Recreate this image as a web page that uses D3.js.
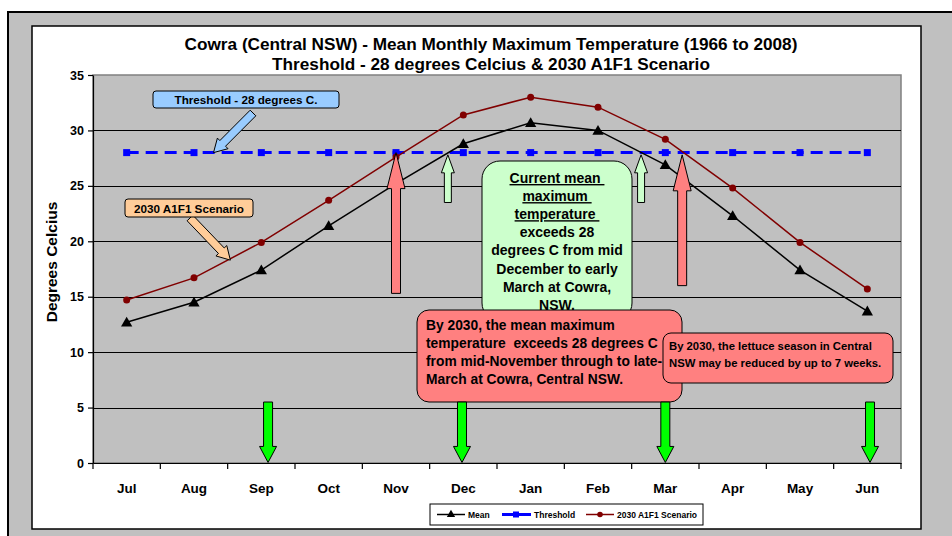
<!DOCTYPE html>
<html><head><meta charset="utf-8">
<script src="https://cdn.jsdelivr.net/npm/d3@7"></script>
<style>
body{margin:0;background:#fff;}
text{font-family:"Liberation Sans",Arial,sans-serif;font-weight:bold;fill:#000;}
</style>
</head><body>
<svg id="c" width="952" height="536"></svg>
<script>
// ---------- DATA ----------
const months = ["Jul","Aug","Sep","Oct","Nov","Dec","Jan","Feb","Mar","Apr","May","Jun"];
const meanValues = [12.7,14.5,17.4,21.4,25.2,28.8,30.7,30.0,26.9,22.3,17.4,13.7];
const thresholdValues = [28,28,28,28,28,28,28,28,28,28,28,28];
const scenarioValues = [14.7,16.7,19.9,23.7,27.6,31.4,33.0,32.1,29.2,24.8,19.9,15.7];
const yTicks = [0,5,10,15,20,25,30,35];
const seriesNames = ["Mean","Threshold","2030 A1F1 Scenario"];
const titleLines = ["Cowra (Central NSW) - Mean Monthly Maximum Temperature (1966 to 2008)",
                    "Threshold - 28 degrees Celcius & 2030 A1F1 Scenario"];
// annotation arrows in data coordinates: month index position, from value, to value
const redArrows = [{i:4.0, from:15.3, to:28.0},{i:8.25, from:16.0, to:27.8}];
const lightGreenArrows = [{i:4.77, from:23.5, to:27.8},{i:7.64, from:23.5, to:27.8}];
const downArrows = [{i:2.1, from:5.5, to:0.05},{i:4.98, from:5.5, to:0.05},{i:8.0, from:5.5, to:0.05},{i:11.04, from:5.5, to:0.05}];

// ---------- SETUP ----------
const svg = d3.select("#c");
const L = 93, R = 901, T = 75, B = 463;
const x = d3.scaleBand().domain(months).range([L, R]);
const bw = x.bandwidth();
const xc = m => x(m) + bw/2;
const xi = i => L + (i + 0.5) * bw;
const y = d3.scaleLinear().domain([0,35]).range([B, T]);
const FF = "'Liberation Sans',Arial,sans-serif";

// outer frame
svg.append("rect").attr("x",8).attr("y",12).attr("width",960).attr("height",540)
  .attr("fill","#c0c0c0").attr("stroke","#000").attr("stroke-width",2);
svg.append("rect").attr("x",32).attr("y",26).attr("width",889).attr("height",503)
  .attr("fill","#fff").attr("stroke","#000").attr("stroke-width",1.5);

// plot area
svg.append("rect").attr("x",L).attr("y",T).attr("width",R-L).attr("height",B-T)
  .attr("fill","#c0c0c0").attr("stroke","#808080").attr("stroke-width",1.5);

// gridlines
svg.append("g").selectAll("line").data(yTicks.filter(v=>v>0&&v<35)).join("line")
  .attr("x1",L).attr("x2",R).attr("y1",d=>Math.round(y(d))+0.5).attr("y2",d=>Math.round(y(d))+0.5)
  .attr("stroke","#000").attr("stroke-width",1);

// y axis
const yAxis = svg.append("g").attr("transform",`translate(${L},0)`)
  .call(d3.axisLeft(y).tickValues(yTicks).tickSize(5).tickSizeOuter(0).tickPadding(4));
yAxis.selectAll("text").style("font-size","12.5px").style("font-family",FF).style("font-weight","bold");
yAxis.selectAll("line,path").attr("stroke","#000").attr("stroke-width",1.2);

// x axis
const xAxis = svg.append("g").attr("transform",`translate(0,${B})`)
  .call(d3.axisBottom(x).tickSize(0).tickPadding(20).tickSizeOuter(0));
xAxis.selectAll("text").style("font-size","13.5px").style("font-family",FF).style("font-weight","bold");
xAxis.select("path").attr("stroke","#000").attr("stroke-width",1.2);
svg.append("g").selectAll("line").data(d3.range(months.length+1)).join("line")
  .attr("x1",d=>L+d*bw).attr("x2",d=>L+d*bw).attr("y1",B).attr("y2",B+6)
  .attr("stroke","#000").attr("stroke-width",1.2);

// y title
svg.append("text").attr("transform","translate(57,262) rotate(-90)")
  .attr("text-anchor","middle").style("font-size","15.5px").text("Degrees Celcius");

// title
svg.append("text").attr("x",491).attr("y",50).attr("text-anchor","middle").style("font-size","17.2px").text(titleLines[0]);
svg.append("text").attr("x",491).attr("y",70).attr("text-anchor","middle").style("font-size","17.2px").text(titleLines[1]);

// ---------- SERIES ----------
const line = d3.line().x((d,i)=>xc(months[i])).y(d=>y(d));
// threshold
svg.append("path").datum(thresholdValues).attr("d",line).attr("fill","none")
  .attr("stroke","#0000ff").attr("stroke-width",3).attr("stroke-dasharray","12,7");
svg.append("g").selectAll("rect").data(thresholdValues).join("rect")
  .attr("x",(d,i)=>xc(months[i])-3.5).attr("y",d=>y(d)-3.5).attr("width",7).attr("height",7).attr("fill","#0000ff");
// mean
svg.append("path").datum(meanValues).attr("d",line).attr("fill","none").attr("stroke","#000").attr("stroke-width",1.5);
const tri = d3.symbol().type(d3.symbolTriangle).size(55);
svg.append("g").selectAll("path").data(meanValues).join("path")
  .attr("d",tri).attr("transform",(d,i)=>`translate(${xc(months[i])},${y(d)+1})`).attr("fill","#000");
// scenario
svg.append("path").datum(scenarioValues).attr("d",line).attr("fill","none").attr("stroke","#800000").attr("stroke-width",1.5);
svg.append("g").selectAll("circle").data(scenarioValues).join("circle")
  .attr("cx",(d,i)=>xc(months[i])).attr("cy",d=>y(d)).attr("r",3.5).attr("fill","#800000");

// ---------- ANNOTATIONS ----------
function blockArrow(x1,y1,x2,y2,sw,hw,hl,fill){
  const dx=x2-x1, dy=y2-y1, len=Math.hypot(dx,dy), ux=dx/len, uy=dy/len, px=-uy, py=ux;
  const bx=x2-ux*hl, by=y2-uy*hl;
  const pts=[[x1+px*sw/2,y1+py*sw/2],[bx+px*sw/2,by+py*sw/2],[bx+px*hw/2,by+py*hw/2],[x2,y2],
             [bx-px*hw/2,by-py*hw/2],[bx-px*sw/2,by-py*sw/2],[x1-px*sw/2,y1-py*sw/2]];
  svg.append("polygon").attr("points",pts.map(p=>p.join(",")).join(" "))
    .attr("fill",fill).attr("stroke","#000").attr("stroke-width",1).attr("stroke-linejoin","miter");
}
redArrows.forEach(a=>blockArrow(xi(a.i),y(a.from),xi(a.i),y(a.to),9,18,36,"#ff8080"));
lightGreenArrows.forEach(a=>blockArrow(xi(a.i),y(a.from),xi(a.i),y(a.to),7,13,18,"#ccffcc"));

// callout: threshold
blockArrow(253,113,xi(1.29),y(28),8,15,13,"#99ccff");
svg.append("rect").attr("x",153).attr("y",91).attr("width",186).attr("height",17).attr("rx",3)
  .attr("fill","#99ccff").attr("stroke","#000").attr("stroke-width",1);
svg.append("text").attr("x",246).attr("y",104).attr("text-anchor","middle").style("font-size","11.7px").text("Threshold - 28 degrees C.");
// callout: scenario
blockArrow(190,218,xi(1.54),y(18.3),8,15,13,"#ffcc99");
svg.append("rect").attr("x",125).attr("y",199).attr("width",128).attr("height",18).attr("rx",3)
  .attr("fill","#ffcc99").attr("stroke","#000").attr("stroke-width",1);
svg.append("text").attr("x",189).attr("y",212.5).attr("text-anchor","middle").style("font-size","11.7px").text("2030 A1F1 Scenario");

// green box
svg.append("rect").attr("x",482).attr("y",161).attr("width",150).attr("height",160).attr("rx",18)
  .attr("fill","#ccffcc").attr("stroke","#000").attr("stroke-width",1);
const greenLines = [["Current mean ",true],["maximum ",true],["temperature ",true],["exceeds 28",false],
  ["degrees C from mid",false],["December to early",false],["March at Cowra,",false],["NSW.",false]];
greenLines.forEach((l,k)=>{
  const t = svg.append("text").attr("x",557).attr("y",183+k*18.1).attr("text-anchor","middle")
    .style("font-size","14px").attr("xml:space","preserve").text(l[0]);
  if(l[1]) t.style("text-decoration","underline");
});

// red big box
svg.append("rect").attr("x",417).attr("y",310).attr("width",265).attr("height",92).attr("rx",12)
  .attr("fill","#ff8080").attr("stroke","#000").attr("stroke-width",1);
["By 2030, the mean maximum","temperature  exceeds 28 degrees C","from mid-November through to late-","March at Cowra, Central NSW."]
  .forEach((s,k)=>svg.append("text").attr("x",426).attr("y",330+k*18).attr("xml:space","preserve").style("font-size","13.8px").text(s));

// red small box
svg.append("rect").attr("x",663).attr("y",333).attr("width",230).attr("height",50).attr("rx",8)
  .attr("fill","#ff8080").attr("stroke","#000").attr("stroke-width",1);
["By 2030, the lettuce season in Central","NSW may be reduced by up to 7 weeks."]
  .forEach((s,k)=>svg.append("text").attr("x",669).attr("y",349.5+k*17).style("font-size","11.3px").text(s));

// green down arrows
downArrows.forEach(a=>blockArrow(xi(a.i),y(a.from),xi(a.i),y(a.to),9,17,16,"#00ff00"));

// ---------- LEGEND ----------
const lg = svg.append("g");
lg.append("rect").attr("x",430).attr("y",504).attr("width",273).attr("height",21).attr("fill","#fff").attr("stroke","#000").attr("stroke-width",1);
const ly = 514.5;
// mean
lg.append("line").attr("x1",437).attr("x2",465).attr("y1",ly).attr("y2",ly).attr("stroke","#000").attr("stroke-width",1.5);
lg.append("path").attr("d",d3.symbol().type(d3.symbolTriangle).size(30)).attr("transform",`translate(451,${ly})`);
lg.append("text").attr("x",468).attr("y",ly+3).style("font-size","8.5px").text(seriesNames[0]);
// threshold
lg.append("line").attr("x1",502).attr("x2",531).attr("y1",ly).attr("y2",ly).attr("stroke","#0000ff").attr("stroke-width",3).attr("stroke-dasharray","12,5");
lg.append("rect").attr("x",513).attr("y",ly-3).attr("width",6).attr("height",6).attr("fill","#0000ff");
lg.append("text").attr("x",534).attr("y",ly+3).style("font-size","8.5px").text(seriesNames[1]);
// scenario
lg.append("line").attr("x1",586).attr("x2",614).attr("y1",ly).attr("y2",ly).attr("stroke","#800000").attr("stroke-width",1.5);
lg.append("circle").attr("cx",600).attr("cy",ly).attr("r",2.8).attr("fill","#800000");
lg.append("text").attr("x",617).attr("y",ly+3).style("font-size","8.5px").text(seriesNames[2]);
</script>
</body></html>
